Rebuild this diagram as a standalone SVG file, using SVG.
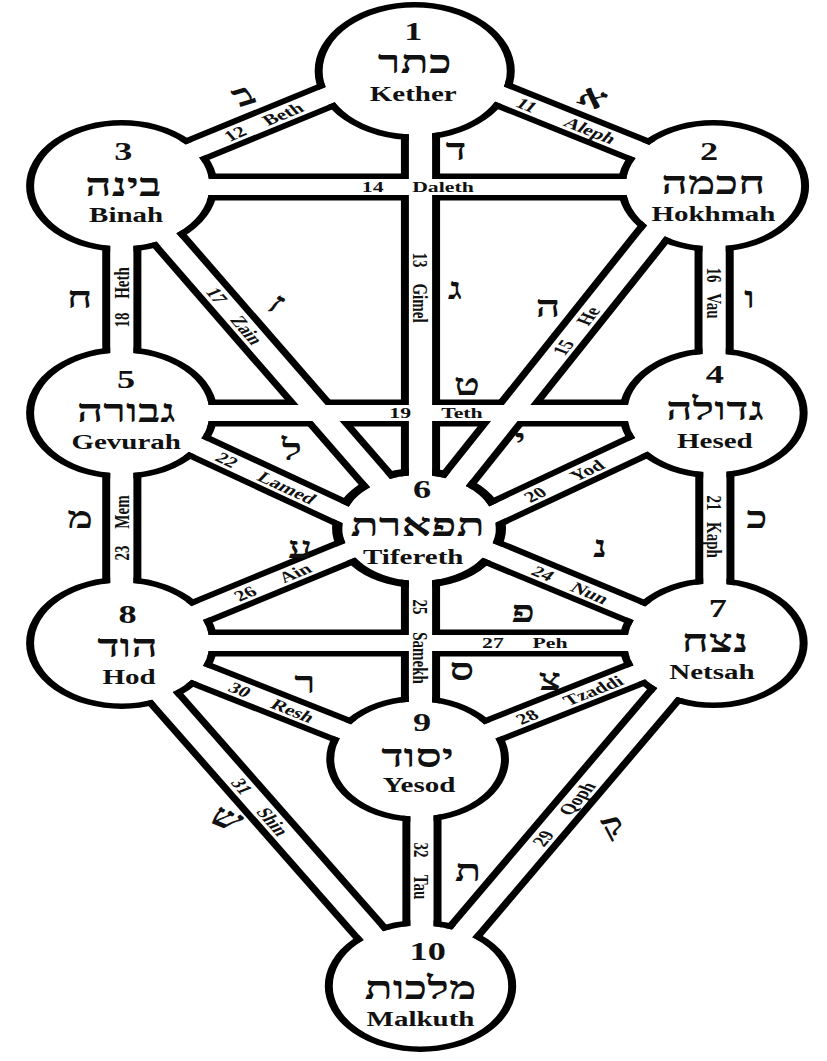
<svg xmlns="http://www.w3.org/2000/svg" xmlns:xlink="http://www.w3.org/1999/xlink" width="827" height="1061" viewBox="0 0 827 1061">
<style>
text{font-family:"Liberation Serif","DejaVu Serif","DejaVu Sans",serif;font-weight:bold;fill:#111;text-anchor:middle}
.num{font-size:25px}
.heb{font-size:32px}
.nm{font-size:20px}
.pl{font-size:15px;dominant-baseline:central}
.pc{font-size:30px;dominant-baseline:central}
.hole{fill:#fff}
.ring{fill:none;stroke:#000;stroke-width:5.5}
</style>
<defs>
<mask id="cut" maskUnits="userSpaceOnUse" x="-60" y="-60" width="720" height="1200">
<rect x="-60" y="-60" width="720" height="1200" fill="#fff"/>
<use href="#ch" xlink:href="#ch" color="#000" stroke-width="16"/>
</mask>
</defs>
<rect width="827" height="1061" fill="#fff"/>
<g transform="scale(1.45 1)">
<g id="connectors">
<use href="#ch" xlink:href="#ch" color="#000" stroke-width="27"/>
<g color="#fff" stroke-width="16">
<g id="ch" stroke="currentColor" fill="none">
<line id="p11" x1="286" y1="60" x2="492" y2="180"/>
<line id="p12" x1="84" y1="180" x2="286" y2="60"/>
<line id="p13" x1="290" y1="71" x2="290" y2="528"/>
<line id="p14" x1="84" y1="187" x2="492" y2="187"/>
<line id="p15" x1="477" y1="186" x2="289" y2="528"/>
<line id="p16" x1="492.5" y1="186" x2="492.5" y2="413"/>
<line id="p17" x1="84" y1="186" x2="289" y2="528"/>
<line id="p18" x1="84" y1="186" x2="84" y2="413"/>
<line id="p19" x1="84" y1="413" x2="492" y2="413"/>
<line id="p20" x1="492" y1="411" x2="289" y2="549"/>
<line id="p21" x1="493" y1="413" x2="493" y2="643"/>
<line id="p22" x1="84" y1="411" x2="289" y2="549"/>
<line id="p23" x1="84" y1="413" x2="84" y2="643"/>
<line id="p24" x1="492" y1="644" x2="289" y2="522"/>
<line id="p25" x1="290" y1="528" x2="290" y2="759"/>
<line id="p26" x1="84" y1="644" x2="289" y2="522"/>
<line id="p27" x1="84" y1="643" x2="492" y2="643"/>
<line id="p28" x1="492" y1="643" x2="288" y2="760"/>
<line id="p29" x1="489" y1="643" x2="288" y2="986"/>
<line id="p30" x1="84" y1="643" x2="288" y2="760"/>
<line id="p31" x1="80" y1="643" x2="288" y2="986"/>
<line id="p32" x1="291" y1="759" x2="291" y2="986"/>
</g>
</g>
</g>

<g id="kether">
<circle class="hole" cx="286" cy="71" r="63.5"/>
<circle class="ring" cx="286" cy="71" r="66.25" mask="url(#cut)"/>
<text class="num" x="285" y="40">1</text>
<text class="heb" x="286" y="73">כתר</text>
<text class="nm" x="285" y="101">Kether</text>
</g>
<g id="hokhmah">
<circle class="hole" cx="492" cy="186" r="60.5"/>
<circle class="ring" cx="492" cy="186" r="63.25" mask="url(#cut)"/>
<text class="num" x="489" y="160">2</text>
<text class="heb" x="492" y="194">חכמה</text>
<text class="nm" x="492" y="221">Hokhmah</text>
</g>
<g id="binah">
<circle class="hole" cx="84" cy="186" r="60.5"/>
<circle class="ring" cx="84" cy="186" r="63.25" mask="url(#cut)"/>
<text class="num" x="85" y="160">3</text>
<text class="heb" x="85" y="196">בינה</text>
<text class="nm" x="87" y="222">Binah</text>
</g>
<g id="hesed">
<circle class="hole" cx="492" cy="413" r="59.5"/>
<circle class="ring" cx="492" cy="413" r="62.25" mask="url(#cut)"/>
<text class="num" x="493" y="383">4</text>
<text class="heb" x="493" y="420">גדולה</text>
<text class="nm" x="493" y="448">Hesed</text>
</g>
<g id="gevurah">
<circle class="hole" cx="84" cy="413" r="60.5"/>
<circle class="ring" cx="84" cy="413" r="63.25" mask="url(#cut)"/>
<text class="num" x="87" y="388">5</text>
<text class="heb" x="87" y="422">גבורה</text>
<text class="nm" x="87" y="449">Gevurah</text>
</g>
<g id="tifereth">
<circle class="hole" cx="289" cy="528" r="53"/>
<circle class="ring" cx="289" cy="528" r="56.5" style="stroke-width:7" mask="url(#cut)"/>
<text class="num" x="291" y="498">6</text>
<text class="heb" x="288" y="536">תפארת</text>
<text class="nm" x="285" y="564">Tifereth</text>
</g>
<g id="netsah">
<circle class="hole" cx="492" cy="643" r="59.5"/>
<circle class="ring" cx="492" cy="643" r="62.25" mask="url(#cut)"/>
<text class="num" x="495" y="617">7</text>
<text class="heb" x="493" y="652">נצח</text>
<text class="nm" x="491" y="679">Netsah</text>
</g>
<g id="hod">
<circle class="hole" cx="84" cy="643" r="60.5"/>
<circle class="ring" cx="84" cy="643" r="63.25" mask="url(#cut)"/>
<text class="num" x="88" y="623">8</text>
<text class="heb" x="88" y="657">הוד</text>
<text class="nm" x="89" y="684">Hod</text>
</g>
<g id="yesod">
<circle class="hole" cx="288" cy="759" r="57.5"/>
<circle class="ring" cx="288" cy="759" r="60.25" mask="url(#cut)"/>
<text class="num" x="291" y="731">9</text>
<text class="heb" x="288" y="767">יסוד</text>
<text class="nm" x="289" y="792">Yesod</text>
</g>
<g id="malkuth">
<circle class="hole" cx="290" cy="986" r="60.5"/>
<circle class="ring" cx="290" cy="986" r="63.25" mask="url(#cut)"/>
<text class="num" x="295" y="960">10</text>
<text class="heb" x="290" y="999">מלכות</text>
<text class="nm" x="290" y="1026">Malkuth</text>
</g>

<g id="path-labels">
<text class="pl" x="162" y="133.6" transform="rotate(-30.7 162 133.6)">12</text>
<text class="pl" x="195" y="113.9" transform="rotate(-30.7 195 113.9)">Beth</text>
<text class="pl" x="363.4" y="105" transform="rotate(30.2 363.4 105)">11</text>
<text class="pl" x="407" y="130.4" transform="rotate(30.2 407 130.4)">Aleph</text>
<text class="pl" x="257" y="187">14</text>
<text class="pl" x="305.5" y="187">Daleth</text>
<text class="pl" x="290" y="260" transform="rotate(90 290 260)">13</text>
<text class="pl" x="290" y="303" transform="rotate(90 290 303)">Gimel</text>
<text class="pl" x="388.3" y="347.4" transform="rotate(-61.2 388.3 347.4)">15</text>
<text class="pl" x="405.5" y="316" transform="rotate(-61.2 405.5 316)">He</text>
<text class="pl" x="149.7" y="295.6" transform="rotate(59 149.7 295.6)">17</text>
<text class="pl" x="170.3" y="330" transform="rotate(59 170.3 330)">Zain</text>
<text class="pl" x="84" y="283" transform="rotate(-90 84 283)">Heth</text>
<text class="pl" x="84" y="320" transform="rotate(-90 84 320)">18</text>
<text class="pl" x="492.5" y="275" transform="rotate(90 492.5 275)">16</text>
<text class="pl" x="492.5" y="306" transform="rotate(90 492.5 306)">Vau</text>
<text class="pl" x="276" y="413">19</text>
<text class="pl" x="318.6" y="413">Teth</text>
<text class="pl" x="156.6" y="459.9" transform="rotate(33.9 156.6 459.9)">22</text>
<text class="pl" x="198" y="487.7" transform="rotate(33.9 198 487.7)">Lamed</text>
<text class="pl" x="369" y="494.5" transform="rotate(-34.2 369 494.5)">20</text>
<text class="pl" x="404.8" y="470.3" transform="rotate(-34.2 404.8 470.3)">Yod</text>
<text class="pl" x="84" y="512" transform="rotate(-90 84 512)">Mem</text>
<text class="pl" x="84" y="553" transform="rotate(-90 84 553)">23</text>
<text class="pl" x="493" y="503" transform="rotate(90 493 503)">21</text>
<text class="pl" x="493" y="540" transform="rotate(90 493 540)">Kaph</text>
<text class="pl" x="169" y="593.4" transform="rotate(-30.8 169 593.4)">26</text>
<text class="pl" x="203.4" y="572.9" transform="rotate(-30.8 203.4 572.9)">Ain</text>
<text class="pl" x="374.5" y="573.4" transform="rotate(31 374.5 573.4)">24</text>
<text class="pl" x="406.9" y="592.9" transform="rotate(31 406.9 592.9)">Nun</text>
<text class="pl" x="290" y="607" transform="rotate(90 290 607)">25</text>
<text class="pl" x="290" y="658" transform="rotate(90 290 658)">Samekh</text>
<text class="pl" x="340" y="643">27</text>
<text class="pl" x="379.3" y="643">Peh</text>
<text class="pl" x="165.5" y="689.7" transform="rotate(29.8 165.5 689.7)">30</text>
<text class="pl" x="202" y="710.7" transform="rotate(29.8 202 710.7)">Resh</text>
<text class="pl" x="363.4" y="716.8" transform="rotate(-29.8 363.4 716.8)">28</text>
<text class="pl" x="409" y="690.6" transform="rotate(-29.8 409 690.6)">Tzaddi</text>
<text class="pl" x="166.9" y="786.3" transform="rotate(58.8 166.9 786.3)">31</text>
<text class="pl" x="188.3" y="821.6" transform="rotate(58.8 188.3 821.6)">Shin</text>
<text class="pl" x="374.5" y="838.4" transform="rotate(-59.6 374.5 838.4)">29</text>
<text class="pl" x="397.9" y="798.5" transform="rotate(-59.6 397.9 798.5)">Qoph</text>
<text class="pl" x="291" y="850" transform="rotate(90 291 850)">32</text>
<text class="pl" x="291" y="887" transform="rotate(90 291 887)">Tau</text>

<text class="pc" x="167.6" y="95" transform="rotate(-25 167.6 95)">ב</text>
<text class="pc" x="409" y="97" transform="rotate(25 409 97)">א</text>
<text class="pc" x="314.5" y="150">ד</text>
<text class="pc" x="313.8" y="289">ג</text>
<text class="pc" x="378" y="307">ה</text>
<text class="pc" x="191" y="303" transform="rotate(30 191 303)">ז</text>
<text class="pc" x="55" y="298">ח</text>
<text class="pc" x="517" y="298">ו</text>
<text class="pc" x="322" y="385">ט</text>
<text class="pc" x="201.4" y="450">ל</text>
<text class="pc" x="358.6" y="440">י</text>
<text class="pc" x="55.2" y="518">מ</text>
<text class="pc" x="522" y="518">כ</text>
<text class="pc" x="207" y="548">ע</text>
<text class="pc" x="413.8" y="547">נ</text>
<text class="pc" x="318.6" y="670">ס</text>
<text class="pc" x="360.7" y="612">פ</text>
<text class="pc" x="210.3" y="683">ר</text>
<text class="pc" x="379.3" y="680">צ</text>
<text class="pc" x="156.6" y="818" transform="rotate(30 156.6 818)">ש</text>
<text class="pc" x="422" y="825" transform="rotate(-20 422 825)">ק</text>
<text class="pc" x="322.8" y="871">ת</text>
</g>
</g>
</svg>
